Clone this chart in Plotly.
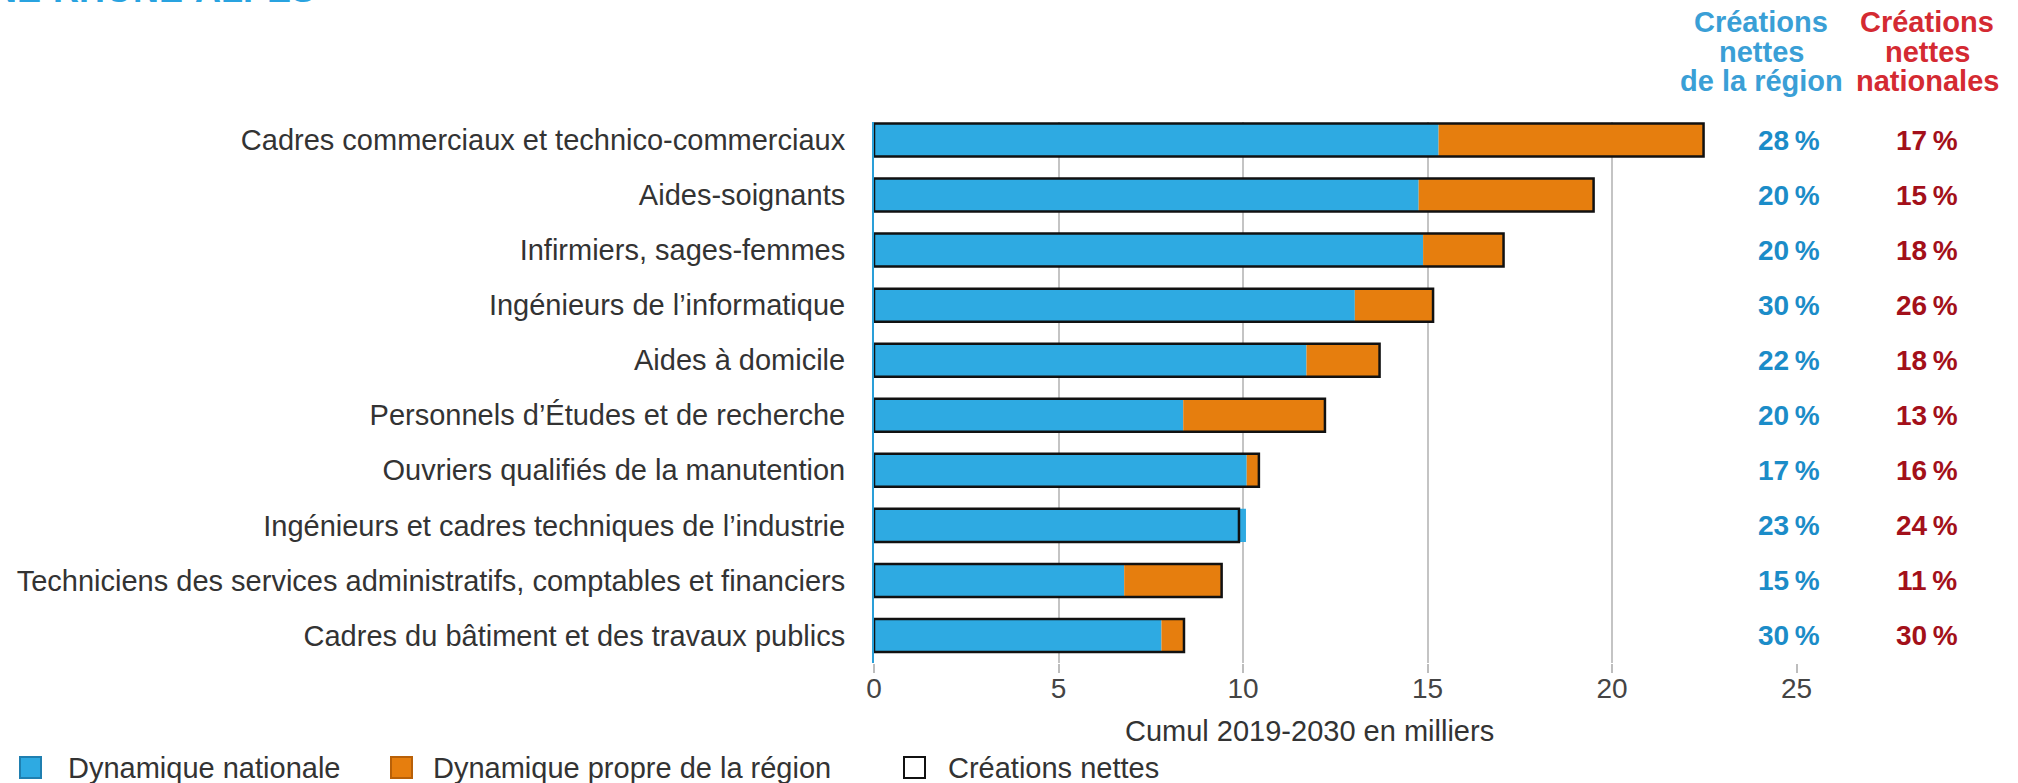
import plotly.graph_objects as go

# métiers, du haut vers le bas
metiers = [
    "Cadres commerciaux et technico-commerciaux",
    "Aides-soignants",
    "Infirmiers, sages-femmes",
    "Ingénieurs de l\u2019informatique",
    "Aides à domicile",
    "Personnels d\u2019Études et de recherche",
    "Ouvriers qualifiés de la manutention",
    "Ingénieurs et cadres techniques de l\u2019industrie",
    "Techniciens des services administratifs, comptables et financiers",
    "Cadres du bâtiment et des travaux publics",
]
# cumul 2019-2030, en milliers
dyn_nationale = [15.30, 14.76, 14.88, 13.03, 11.72, 8.38, 10.10, 10.08, 6.78, 7.79]
dyn_region = [7.18, 4.74, 2.18, 2.12, 1.98, 3.84, 0.33, -0.19, 2.64, 0.61]
creations_nettes = [22.48, 19.50, 17.06, 15.15, 13.70, 12.22, 10.43, 9.89, 9.42, 8.40]
# créations nettes en %
pct_region = [28, 20, 20, 30, 22, 20, 17, 23, 15, 30]
pct_national = [17, 15, 18, 26, 18, 13, 16, 24, 11, 30]
x_ticks = [0, 5, 10, 15, 20, 25]
grid_ticks = [5, 10, 15, 20]

BLUE = "#2eaae2"
ORANGE = "#e67e0e"
FONT = "Liberation Sans, Arial, sans-serif"
W, H = 2018, 783
L, R, T, B = 874, 203, 122, 120
PW, PH = W - L - R, H - T - B


def px(x):
    return (x - L) / PW


def py(y):
    return (H - B - y) / PH


def note(x, y, text, size=29, color="#333", xanchor="center", yanchor="middle",
         xref="paper", yref="paper"):
    return dict(x=x, y=y, xref=xref, yref=yref, text=text, showarrow=False,
                xanchor=xanchor, yanchor=yanchor,
                font=dict(size=size, color=color))


fig = go.Figure()
fig.add_bar(y=metiers, x=dyn_nationale, base=0, orientation="h", width=0.6,
            marker=dict(color=BLUE, line=dict(width=0)),
            name="Dynamique nationale")
fig.add_bar(y=metiers, x=[max(v, 0) for v in dyn_region], base=dyn_nationale,
            orientation="h", width=0.6,
            marker=dict(color=ORANGE, line=dict(width=0)),
            name="Dynamique propre de la région")
fig.add_bar(y=metiers, x=creations_nettes, base=0, orientation="h", width=0.6,
            marker=dict(color="rgba(0,0,0,0)", line=dict(color="#111", width=2.5)),
            name="Créations nettes")
# support for the grid axis
fig.add_scatter(x=[None], y=[None], xaxis="x2", showlegend=False)

annots = []
for m, pr, pn in zip(metiers, pct_region, pct_national):
    annots.append(note(px(1789), m, f"<b>{pr}\u2009%</b>", size=28,
                       color="#1b8cc8", yref="y"))
    annots.append(note(px(1927), m, f"<b>{pn}\u2009%</b>", size=28,
                       color="#a3101a", yref="y"))

for i, line in enumerate(["Créations", "nettes", "de la région"]):
    annots.append(note(px(1761), py(22 + i * 29.5), f"<b>{line}</b>",
                       size=29, color="#3a9fd6"))
for i, line in enumerate(["Créations", "nettes", "nationales"]):
    annots.append(note(px(1927), py(22 + i * 29.5), f"<b>{line}</b>",
                       size=29, color="#d42a32"))

annots.append(note(px(317), py(12), "<b>AUVERGNE-RHÔNE-ALPES</b>", size=36,
                   color="#29a3e0", xanchor="right", yanchor="bottom"))
annots.append(note(px(1309), py(731), "Cumul 2019-2030 en milliers"))

shapes = []
legend = [("Dynamique nationale", BLUE, "#1f7fb0", 20, 66),
          ("Dynamique propre de la région", ORANGE, "#b86008", 391, 431),
          ("Créations nettes", "white", "#111", 904, 946)]
for label, fill, edge, x0, xt in legend:
    shapes.append(dict(type="rect", xref="paper", yref="paper",
                       x0=px(x0), x1=px(x0 + 21), y0=py(778), y1=py(757),
                       fillcolor=fill, line=dict(color=edge, width=2)))
    annots.append(note(px(xt), py(768), label, xanchor="left"))

fig.update_layout(
    width=W, height=H, barmode="overlay",
    margin=dict(l=L, r=R, t=T, b=B, pad=0),
    paper_bgcolor="white", plot_bgcolor="white",
    font=dict(family=FONT, size=29, color="#333"),
    showlegend=False,
    xaxis=dict(range=[0, 25.5], tickvals=x_ticks, showgrid=False,
               zeroline=False, ticks="outside", ticklen=9, tickwidth=1.5,
               tickcolor="#bdbdbd", tickfont=dict(size=28, color="#444"),
               ticklabelstandoff=-9, automargin=False),
    xaxis2=dict(overlaying="x", matches="x", tickvals=grid_ticks,
                showgrid=True, gridcolor="#c4c4c4", gridwidth=1.5,
                showticklabels=False, ticks="", zeroline=False),
    yaxis=dict(categoryorder="array", categoryarray=metiers,
               range=[9.5, -0.327], showgrid=False, zeroline=False,
               showline=True, linecolor="#2a9fd8", linewidth=2,
               ticks="", ticklabelstandoff=21, automargin=False,
               tickfont=dict(size=29, color="#333")),
    annotations=annots, shapes=shapes,
)

fig.write_html("out.html", config={"displayModeBar": False},
               post_script="document.body.style.margin = '0';")
